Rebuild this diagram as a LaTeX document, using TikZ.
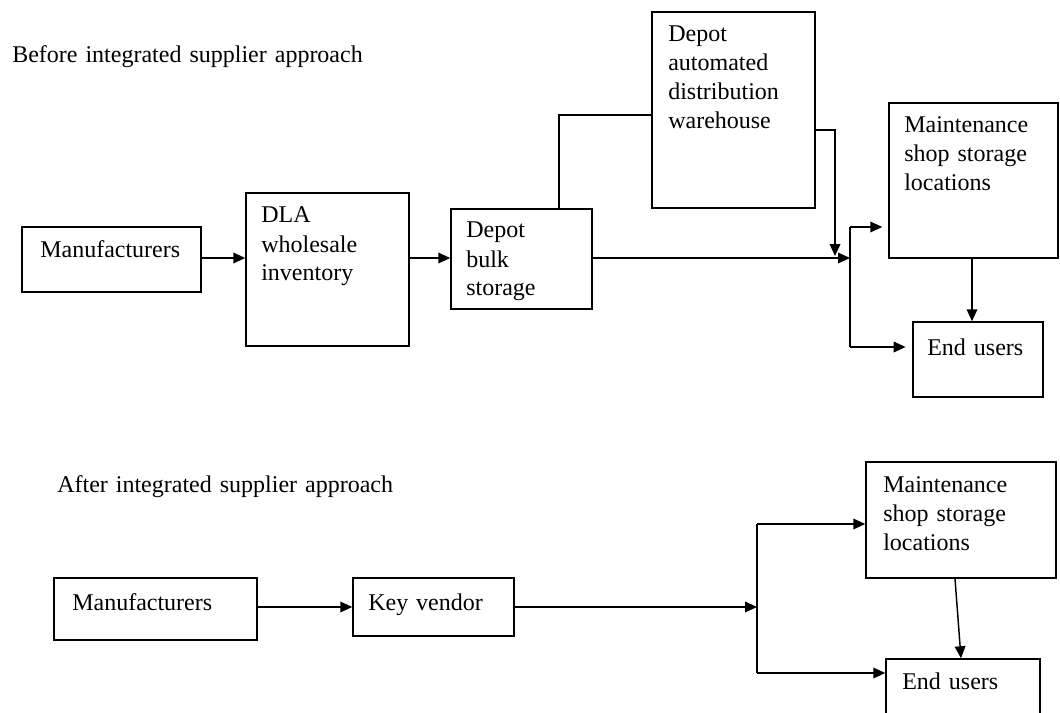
\documentclass[tikz,border=0pt]{standalone}
\usepackage{fontspec}
\setmainfont{Liberation Serif}
\usetikzlibrary{arrows.meta,fit}
\begin{document}
\begin{tikzpicture}[x=0.75pt,y=-0.75pt,
  box/.style={draw,line width=1.1pt,inner sep=0pt,rectangle},
  txt/.style={anchor=base west,inner sep=0pt,align=left,text width=#1*0.75pt,
    font=\fontsize{18}{21.75}\selectfont},
  txt/.default=200,
  line/.style={line width=1.1pt},
  arr/.style={line width=1.1pt,-{Triangle[length=9pt,width=8pt]}}]
\clip (0,0) rectangle (1060,713);
\fill[white] (0,0) rectangle (1060,713);

% ---- before: boxes ----
\node[box,fit={(22,227) (201,292)}] (m1) {};
\node[box,fit={(246,193) (409,346)}] (dla) {};
\node[box,fit={(451,209) (592,309)}] (bulk) {};
\node[box,fit={(652,12) (815,208)}] (wh) {};
\node[box,fit={(889,103) (1058,258)}] (mt) {};
\node[box,fit={(913,322) (1043,397)}] (eu) {};

% ---- before: texts ----
\node[txt=400] (t1) at (12,63) {Before integrated supplier approach};
\node[txt] (m1t) at (40,257) {Manufacturers};
\node[txt] (dlat) at (261,223) {DLA\\wholesale\\inventory};
\node[txt] (bulkt) at (466,238) {Depot\\bulk\\storage};
\node[txt] (wht) at (668,42) {Depot\\automated\\distribution\\warehouse};
\node[txt] (mtt) at (904,133) {Maintenance\\shop storage\\locations};
\node[txt] (eut) at (927,355) {End users};

% ---- before: connectors ----
\coordinate (r1) at (0,258);
\coordinate (tap) at (559,115);
\coordinate (wr) at (835,130);
\coordinate (j1) at (850,258);
\coordinate (ja) at (850,227);
\coordinate (jb) at (850,347);
\coordinate (dn) at (972,0);
\draw[arr] (m1.east |- r1) -- (dla.west |- r1);
\draw[arr] (dla.east |- r1) -- (bulk.west |- r1);
\draw[line] (bulk.north -| tap) |- (wh.west |- tap);
\draw[arr] (bulk.east |- r1) -- (j1);
\draw[arr] (wh.east |- wr) -| ([yshift=1.5pt]wr |- r1);
\draw[line] (ja) -- (jb);
\draw[arr,shorten >=4.5pt] (ja) -- (mt.west |- ja);
\draw[arr,shorten >=5pt] (jb) -- (eu.west |- jb);
\draw[arr] (mt.south -| dn) -- (eu.north -| dn);

% ---- after: boxes ----
\node[box,fit={(54,578) (257,640)}] (m2) {};
\node[box,fit={(353,578) (514,636)}] (kv) {};
\node[box,fit={(866,462) (1056,578)}] (m3) {};
\node[box,fit={(886,659) (1040,740)}] (e3) {};

% ---- after: texts ----
\node[txt=400] (t2) at (57,492) {After integrated supplier approach};
\node[txt] (m2t) at (72,610) {Manufacturers};
\node[txt] (kvt) at (368,610) {Key vendor};
\node[txt] (m3t) at (883,492) {Maintenance\\shop storage\\locations};
\node[txt] (e3t) at (902,689) {End users};

% ---- after: connectors ----
\coordinate (r2) at (0,607);
\coordinate (j2) at (757,607);
\coordinate (j2a) at (757,524);
\coordinate (j2b) at (757,673);
\coordinate (s1) at (955,0);
\coordinate (s2) at (961,0);
\draw[arr] (m2.east |- r2) -- (kv.west |- r2);
\draw[arr] (kv.east |- r2) -- (j2);
\draw[line] (j2a) -- (j2b);
\draw[arr] (j2a) -- (m3.west |- j2a);
\draw[arr] (j2b) -- (e3.west |- j2b);
\draw[arr] (m3.south -| s1) -- (e3.north -| s2);
\end{tikzpicture}
\end{document}
